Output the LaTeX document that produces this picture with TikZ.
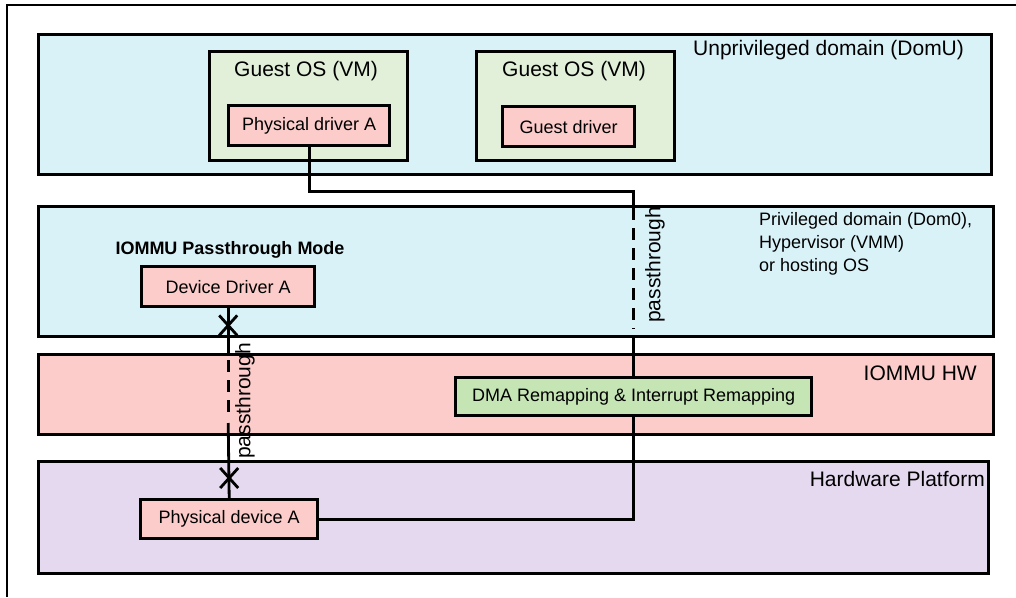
\documentclass[tikz,border=0pt]{standalone}
\usepackage{fontspec}
\setmainfont{Liberation Sans}
\usetikzlibrary{positioning,calc}

\definecolor{domblue}{HTML}{D9F2F8}
\definecolor{guestgreen}{HTML}{E2F0D9}
\definecolor{drvpink}{HTML}{FBCCCA}
\definecolor{remapgreen}{HTML}{C5E5B5}
\definecolor{hwlav}{HTML}{E5D9EF}

\tikzset{
  layer/.style={draw=black, line width=3.4pt, inner sep=0pt, anchor=north west},
  compbox/.style={draw=black, line width=3.4pt, inner sep=0pt, anchor=north west,
    font=\fontsize{18}{22}\selectfont},
  biglabel/.style={font=\fontsize{21}{25}\selectfont, inner sep=0pt},
  smalllabel/.style={font=\fontsize{18}{23}\selectfont, inner sep=0pt},
  link/.style={line width=2.8pt},
  linkdash/.style={line width=2.8pt, dash pattern=on 12pt off 8pt},
  cutmark/.style={line width=2.8pt},
  sidelabel/.style={font=\fontsize{21}{25}\selectfont, rotate=90, inner sep=0pt},
}

\begin{document}
\begin{tikzpicture}[x=1pt,y=-1pt]
\useasboundingbox (0,0) rectangle (1016,597);

% page frame (top and left rules)
\draw[line width=1.4pt] (1016,5) -- (7,5) -- (7,597);

% layers
\node[layer, fill=domblue, minimum width=953pt, minimum height=140pt] (domu) at (37,33) {};
\node[layer, fill=domblue, minimum width=955pt, minimum height=130pt] (dom0) at (37,205) {};
\node[layer, fill=drvpink, minimum width=955pt, minimum height=80pt] (iommu) at (37,353) {};
\node[layer, fill=hwlav, minimum width=950pt, minimum height=112pt] (hw) at (37,460) {};

% guest operating systems
\node[layer, fill=guestgreen, minimum width=198pt, minimum height=109pt] (guest1) at (208,50) {};
\node[layer, fill=guestgreen, minimum width=198pt, minimum height=109pt] (guest2) at (475,50) {};
\node[biglabel] (guest1lbl) at (306,71) {Guest OS (VM)};
\node[biglabel] (guest2lbl) at (574,71) {Guest OS (VM)};

% components
\node[compbox, fill=drvpink, minimum width=161pt, minimum height=40pt] (physdrv) at (227,104) {};
\node[smalllabel] at (physdrv.center) {Physical driver A};
\node[compbox, fill=drvpink, minimum width=132pt, minimum height=40pt] (guestdrv) at (501,105) {};
\node[smalllabel] at (guestdrv.center) {Guest driver};
\node[compbox, fill=drvpink, minimum width=173pt, minimum height=40pt] (devdrv) at (140,265) {};
\node[smalllabel] at (devdrv.center) {Device Driver A};
\node[compbox, fill=remapgreen, minimum width=356pt, minimum height=38pt] (remap) at (454,376) {};
\node[smalllabel] at (remap.center) {DMA Remapping \& Interrupt Remapping};
\node[compbox, fill=drvpink, minimum width=177pt, minimum height=39pt] (physdev) at (139,498) {};
\node[smalllabel] at (physdev.center) {Physical device A};

% layer captions
\node[biglabel, anchor=west] (domulbl) at (693,50) {Unprivileged domain (DomU)};
\node[smalllabel, anchor=north west, align=left] (dom0lbl) at (759,212)
  {Privileged domain (Dom0),\\Hypervisor (VMM)\\or hosting OS};
\node[smalllabel, anchor=center] (modelbl) at (230,250) {\bfseries IOMMU Passthrough Mode};
\node[biglabel, anchor=east] (iommulbl) at (977,373) {IOMMU HW};
\node[biglabel, anchor=east] (hwlbl) at (985,479) {Hardware Platform};

% path of the guest-owned device through the remapping unit
\coordinate (bendA) at ($(physdrv.south)+(0,44)$);
\coordinate (bendB) at (remap.north |- bendA);
\coordinate (dashTopR) at (remap.north |- dom0.north);
\coordinate (dashEndR) at ($(remap.north |- dom0.south)+(0,-9)$);
\coordinate (dashResR) at (remap.north |- dom0.south);
\coordinate (bendC) at (remap.south |- physdev.east);
\draw[link] (physdrv.south) -- (bendA) -- (bendB) -- (dashTopR);
\draw[linkdash] ($(dashTopR)+(0,3)$) -- (dashEndR);
\draw[link] (dashResR) -- (remap.north);
\draw[link] (remap.south) -- (bendC) -- (physdev.east);
\node[sidelabel] (pt1) at (655,265) {passthrough};

% direct path bypassing the remapping unit
\coordinate (cutTop) at ($(devdrv.south)+(0,17)$);
\coordinate (leftA) at (devdrv.south |- iommu.north);
\coordinate (leftB) at ($(leftA)+(0,7)$);
\coordinate (leftC) at ($(leftA)+(0,63)$);
\coordinate (leftD) at ($(leftA)+(0,70)$);
\coordinate (cutBot) at ($(physdev.north)+(0,-20)$);
\draw[link] (devdrv.south) -- (leftA);
\draw[linkdash] (leftB) -- (leftC);
\draw[link] (leftD) -- (physdev.north);
% cut marks on the direct path
\draw[cutmark] ($(cutTop)+(-9,-10)$) -- ($(cutTop)+(9,10)$)
               ($(cutTop)+(9,-10)$) -- ($(cutTop)+(-9,10)$);
\draw[cutmark] ($(cutBot)+(-9,-10)$) -- ($(cutBot)+(9,10)$)
               ($(cutBot)+(9,-10)$) -- ($(cutBot)+(-9,10)$);
\node[sidelabel] (pt2) at (245,401) {passthrough};
\end{tikzpicture}
\end{document}
